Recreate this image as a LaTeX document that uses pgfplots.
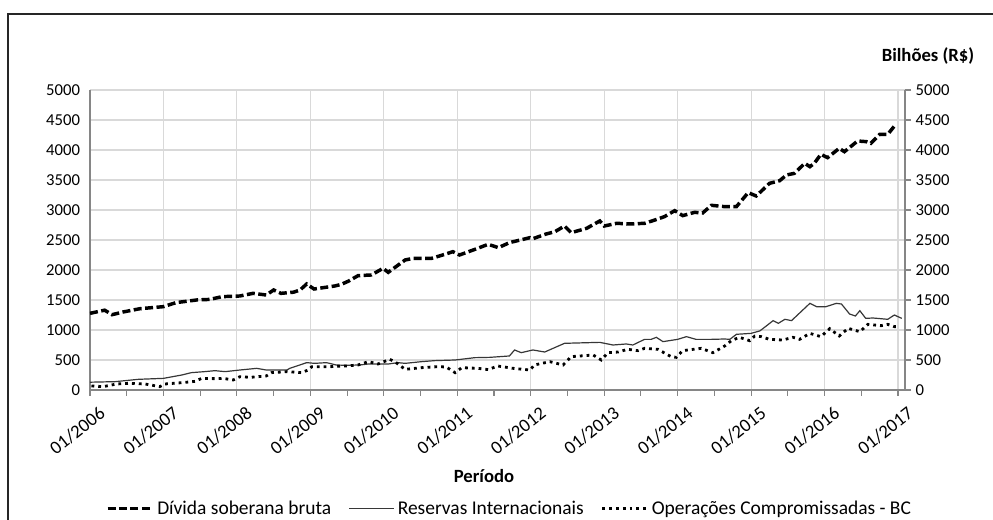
\documentclass[border=0pt]{standalone}
\usepackage{fontspec}
\setmainfont{Carlito}
\usepackage{pgfplots}
\pgfplotsset{compat=1.18}
\definecolor{gridc}{RGB}{217,217,217}
\definecolor{axisc}{RGB}{134,134,134}
\definecolor{resc}{RGB}{55,55,55}

\pgfplotstableread{
x y
2006.00 1278
2006.20 1330
2006.30 1255
2006.45 1300
2006.68 1355
2007.00 1389
2007.17 1456
2007.45 1500
2007.63 1510
2007.80 1556
2007.90 1560
2008.04 1567
2008.22 1611
2008.40 1583
2008.50 1667
2008.60 1611
2008.77 1630
2008.86 1667
2008.95 1767
2009.05 1683
2009.33 1733
2009.42 1760
2009.52 1815
2009.65 1906
2009.83 1917
2009.99 2028
2010.06 1961
2010.29 2167
2010.40 2194
2010.65 2194
2010.83 2261
2010.94 2306
2011.03 2250
2011.24 2344
2011.42 2428
2011.56 2372
2011.71 2456
2011.99 2539
2012.03 2522
2012.21 2600
2012.33 2639
2012.46 2733
2012.55 2622
2012.76 2694
2012.94 2817
2013.00 2733
2013.17 2778
2013.35 2767
2013.55 2778
2013.69 2833
2013.82 2889
2013.96 2989
2014.07 2906
2014.23 2961
2014.34 2950
2014.46 3078
2014.64 3056
2014.80 3056
2014.96 3289
2015.07 3233
2015.25 3444
2015.39 3489
2015.48 3583
2015.59 3611
2015.73 3778
2015.80 3722
2015.86 3778
2015.95 3928
2016.04 3872
2016.20 4028
2016.27 3972
2016.45 4150
2016.57 4139
2016.63 4111
2016.75 4261
2016.86 4261
2016.97 4428
}\divida

\pgfplotstableread{
x y
2006.00 130
2006.34 139
2006.66 178
2007.00 194
2007.25 250
2007.38 289
2007.56 306
2007.70 322
2007.84 306
2008.04 333
2008.27 361
2008.40 333
2008.68 333
2008.72 361
2008.95 456
2009.06 444
2009.22 456
2009.35 417
2009.49 411
2009.67 417
2009.79 433
2010.06 433
2010.19 456
2010.29 444
2010.51 472
2010.69 489
2010.97 500
2011.24 539
2011.44 544
2011.71 567
2011.78 667
2011.87 622
2012.03 667
2012.19 633
2012.46 778
2012.94 794
2013.12 750
2013.30 767
2013.39 750
2013.55 844
2013.64 844
2013.71 878
2013.80 806
2014.00 844
2014.12 889
2014.25 844
2014.46 844
2014.64 850
2014.71 844
2014.80 928
2015.00 944
2015.12 985
2015.30 1156
2015.37 1111
2015.46 1178
2015.55 1156
2015.80 1444
2015.89 1389
2016.02 1389
2016.16 1444
2016.23 1433
2016.34 1267
2016.42 1233
2016.48 1322
2016.56 1194
2016.66 1200
2016.86 1178
2016.95 1250
2017.05 1194
}\reservas

\pgfplotstableread{
x y
2006.02 67
2006.18 56
2006.36 100
2006.52 111
2006.75 100
2006.95 56
2007.02 100
2007.25 122
2007.43 144
2007.52 194
2007.70 189
2007.81 194
2007.95 167
2008.04 222
2008.18 211
2008.40 233
2008.47 289
2008.68 306
2008.88 289
2008.97 333
2009.02 389
2009.27 389
2009.49 400
2009.65 417
2009.79 472
2009.92 433
2010.08 511
2010.15 472
2010.29 344
2010.51 372
2010.74 389
2010.85 383
2010.97 289
2011.06 372
2011.28 361
2011.42 340
2011.55 400
2011.76 361
2011.99 333
2012.05 417
2012.26 472
2012.44 417
2012.55 556
2012.85 583
2012.96 500
2013.05 622
2013.19 633
2013.32 678
2013.46 656
2013.55 694
2013.73 678
2013.91 556
2013.98 544
2014.07 656
2014.32 694
2014.48 622
2014.64 733
2014.73 822
2014.84 878
2014.98 822
2015.05 900
2015.14 889
2015.25 844
2015.43 833
2015.57 878
2015.66 844
2015.80 944
2015.95 889
2016.07 1022
2016.20 900
2016.32 1028
2016.48 972
2016.59 1094
2016.77 1072
2016.86 1094
2016.95 1056
2017.02 1056
}\operacoes

\begin{document}
\begin{tikzpicture}[font=\fontsize{12.5}{15}\selectfont]
\useasboundingbox (-67.5pt,-97.5pt) rectangle (677.25pt,292.5pt);
% outer frame (cut at right and bottom)
\draw[line width=1.4pt, black!85] (-61.5pt,-110pt) -- (-61.5pt,282pt) -- (690pt,282pt);

\begin{axis}[
  scale only axis, width=611.25pt, height=225pt,
  xmin=2006, xmax=2017.095, ymin=0, ymax=5000,
  axis x line*=bottom, axis y line*=left,
  axis line style={draw=axisc, line width=0.8pt},
  xtick={2006,2007,2008,2009,2010,2011,2012,2013,2014,2015,2016,2017},
  xticklabels={01/2006,01/2007,01/2008,01/2009,01/2010,01/2011,01/2012,01/2013,01/2014,01/2015,01/2016,01/2017},
  minor xtick={2006.5,2007.5,2008.5,2009.5,2010.5,2011.5,2012.5,2013.5,2014.5,2015.5,2016.5},
  xticklabel style={rotate=38, anchor=north east, font=\fontsize{14}{16}\selectfont, xshift=4pt, yshift=-6pt},
  xtick align=outside, major tick length=4.5pt, minor tick length=4.5pt,
  tick style={axisc, line width=0.8pt},
  ytick={0,500,...,5000},
  y tick style={draw=none},
  yticklabel style={font=\fontsize{12.5}{15}\selectfont, xshift=-4pt},
  /pgf/number format/1000 sep={},
  /pgf/number format/assume math mode=true,
  xmajorgrids, ymajorgrids,
  grid style={gridc, line width=0.8pt},
  legend columns=3,
  legend cell align=left,
  legend style={at={(0.515,-0.395)}, anchor=center, draw=none, fill=none,
    font=\fontsize{14.6}{17}\selectfont,
    /tikz/every even column/.append style={column sep=11pt}},
  legend image code/.code={\draw[#1] (0pt,0pt) -- (34pt,0pt);},
]
\addplot[black, line width=2.6pt, dash pattern=on 6pt off 2.6pt] table[x=x,y=y] {\divida};
\addlegendentry{Dívida soberana bruta}
\addplot[resc, line width=0.9pt] table[x=x,y=y] {\reservas};
\addlegendentry{Reservas Internacionais}
\addplot[black, line width=2.1pt, dash pattern=on 2.1pt off 3pt] table[x=x,y=y] {\operacoes};
\addlegendentry{Operações Compromissadas - BC}
\end{axis}

\begin{axis}[
  scale only axis, width=611.25pt, height=225pt,
  xmin=2006, xmax=2017.095, ymin=0, ymax=5000,
  axis y line*=right, axis x line=none,
  axis line style={draw=axisc, line width=0.8pt},
  ytick={0,500,...,5000},
  ytick align=outside, major tick length=4.5pt,
  tick style={axisc, line width=0.8pt},
  yticklabel style={font=\fontsize{12.5}{15}\selectfont},
  /pgf/number format/1000 sep={},
  /pgf/number format/assume math mode=true,
]
\end{axis}

\node[font=\bfseries\fontsize{14}{16}\selectfont] at (628.5pt,250.5pt) {Bilhões (R\$)};
\node[font=\bfseries\fontsize{14}{16}\selectfont] at (295.5pt,-64.5pt) {Período};
\end{tikzpicture}
\end{document}
